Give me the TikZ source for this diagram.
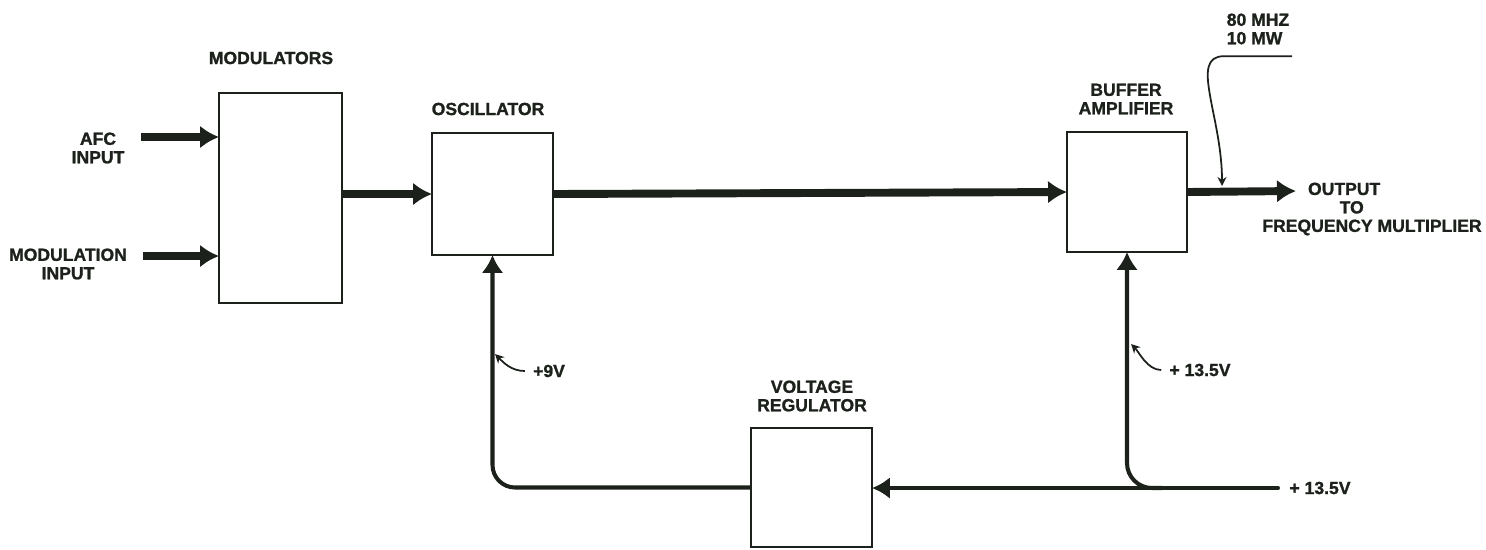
\documentclass[tikz,border=0pt]{standalone}
\usepackage{fontspec}
\setmainfont{Liberation Sans}[BoldFeatures={FakeBold=1.2}]
\usetikzlibrary{arrows.meta, positioning}
\definecolor{ink}{HTML}{1C211C}
\tikzset{
  every picture/.style={line width=1.4pt, font=\fontsize{10}{10.5}\selectfont\bfseries},
  block/.style={draw=ink, rectangle, inner sep=0pt, outer sep=0pt},
  label/.style={text=ink, align=center, inner sep=1pt},
  sig/.style={-{Latex[length=3.8mm, width=4.6mm]}, draw=ink, line width=4.5pt},
  pwr/.style={-{Latex[length=3.6mm, width=4.4mm]}, draw=ink, line width=2.3pt},
  lead/.style={-{Stealth[length=1.8mm, width=1.8mm]}, draw=ink, line width=1pt},
}

\begin{document}
\begin{tikzpicture}[x=0.02cm, y=-0.02cm]
  \useasboundingbox (0,0) rectangle (1486,549);

  % blocks
  \node[block, minimum width=2.46cm, minimum height=4.2cm] (mod) at (280.5,198) {};
  \node[block, minimum width=2.42cm, minimum height=2.44cm] (osc) at (492.5,194) {};
  \node[block, minimum width=2.4cm, minimum height=2.4cm] (buf) at (1127,192) {};
  \node[block, minimum width=2.42cm, minimum height=2.38cm] (reg) at (811.5,487.5) {};

  % block names
  \node[label] (modl) at (271,58) {MODULATORS};
  \node[label] (oscl) at (488,109) {OSCILLATOR};
  \node[label] (bufl) at (1126,99) {BUFFER\\AMPLIFIER};
  \node[label] (regl) at (812,396) {VOLTAGE\\REGULATOR};

  % inputs and output
  \node[label] (afc) at (98,148) {AFC\\INPUT};
  \node[label] (modin) at (68,264) {MODULATION\\INPUT};
  \node[label, align=left] (out) at (1372,209) {\hspace*{26pt}OUTPUT\\\hspace*{44pt}TO\\FREQUENCY MULTIPLIER};
  \node[label, align=left] (rf) at (1258,29) {80 MHZ\\10 MW};

  % supply voltages
  \node[label] (v9) at (549,371) {+9V};
  \node[label] (v13b) at (1200,370) {+ 13.5V};
  \node[label] (v13s) at (1320,488) {+ 13.5V};

  \coordinate (afcin) at (141,137);
  \coordinate (modsrc) at (143,256);
  \coordinate (outend) at (1296,191);
  \coordinate (src) at (1278,488);
  \coordinate (jn) at (1162,488);
  \coordinate (rftip) at (1222,186);
  \coordinate (v9tip) at (495,354);
  \coordinate (v13tip) at (1131,344);

  % signal path
  \draw[sig] (afcin) -- (afcin -| mod.west);
  \draw[sig] (modsrc) -- (modsrc -| mod.west);
  \draw[sig] (mod.east |- osc.west) -- (osc.west);
  \draw[sig] (osc.east) -- (buf.west);
  \draw[sig] (buf.east) -- (outend);

  % supply path
  \draw[pwr, line cap=round] (src) -- (src -| reg.east);
  \draw[pwr, rounded corners=0.5cm] (jn) -| (buf.south);
  \draw[pwr, rounded corners=0.45cm] (reg.west) -| (osc.south);

  % leaders
  \draw[lead] ([yshift=-5pt]rf.south east) -- ([yshift=-5pt]rf.south west) .. controls +(-35,0) and +(0,-70) .. (rftip);
  \draw[lead] ([xshift=-3pt]v9.west) .. controls +(-14,0) and +(8,8) .. (v9tip);
  \draw[lead] ([xshift=-3pt]v13b.west) .. controls +(-14,0) and +(8,8) .. (v13tip);
\end{tikzpicture}
\end{document}
